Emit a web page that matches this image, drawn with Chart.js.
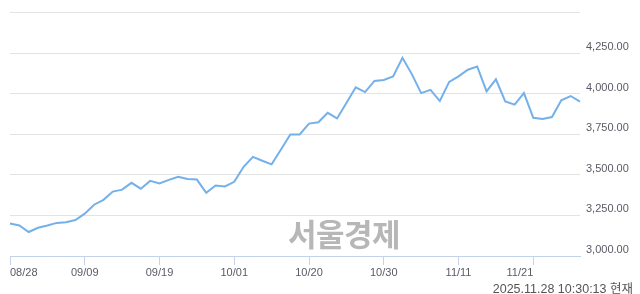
<!DOCTYPE html>
<html>
<head>
<meta charset="utf-8">
<script src="https://cdn.jsdelivr.net/npm/chart.js@4/dist/chart.umd.min.js"></script>
<style>
  body { margin: 0; background: #fff; }
  #wrap { position: relative; width: 640px; height: 294px; }
  #mark {
    position: absolute; left: 288px; top: 210px;
    font: bold 31px 'Noto Sans CJK KR', sans-serif;
    color: #b7b7b7; letter-spacing: -0.5px;
  }
  #stamp {
    position: absolute; right: 7px; top: 278px;
    font: 12.5px 'Liberation Sans', 'Noto Sans CJK KR', sans-serif;
    color: #555;
  }
</style>
</head>
<body>
<div id="wrap">
  <canvas id="kospiChart"></canvas>
  <div id="mark">서울경제</div>
  <div id="stamp">2025.11.28 10:30:13 현재</div>
</div>
<script>
// trading days 08/28 ~ 11/28
const dates = [
  '08/28', '08/29', '09/01', '09/02', '09/03', '09/04', '09/05', '09/08', '09/09', '09/10',
  '09/11', '09/12', '09/15', '09/16', '09/17', '09/18', '09/19', '09/22', '09/23', '09/24',
  '09/25', '09/26', '09/29', '09/30', '10/01', '10/02', '10/10', '10/13', '10/14', '10/15',
  '10/16', '10/17', '10/20', '10/21', '10/22', '10/23', '10/24', '10/27', '10/28', '10/29',
  '10/30', '10/31', '11/03', '11/04', '11/05', '11/06', '11/07', '11/10', '11/11', '11/12',
  '11/13', '11/14', '11/17', '11/18', '11/19', '11/20', '11/21', '11/24', '11/25', '11/26',
  '11/27', '11/28'
];
const closes = [
  3200, 3188, 3148, 3174, 3188, 3204, 3208, 3222, 3261, 3316,
  3346, 3397, 3409, 3451, 3415, 3463, 3447, 3469, 3488, 3474,
  3471, 3389, 3435, 3429, 3457, 3550, 3611, 3587, 3565, 3656,
  3749, 3749, 3816, 3824, 3882, 3848, 3943, 4040, 4010, 4079,
  4085, 4107, 4221, 4121, 4004, 4024, 3955, 4073, 4107, 4148,
  4168, 4014, 4089, 3953, 3933, 4004, 3852, 3844, 3856, 3960,
  3986, 3951
];
const tickLabels = ['08/28', '09/09', '09/19', '10/01', '10/20', '10/30', '11/11', '11/21'];
const yTicks = [3000, 3250, 3500, 3750, 4000, 4250, 4500];

const fontFamily = "'Liberation Sans', Arial, sans-serif";

new Chart(document.getElementById('kospiChart'), {
  type: 'line',
  data: {
    labels: dates,
    datasets: [{
      data: closes,
      borderColor: '#74b0ea',
      borderWidth: 2,
      pointRadius: 0,
      tension: 0,
      fill: false
    }]
  },
  options: {
    responsive: true,
    maintainAspectRatio: false,
    animation: false,
    layout: { padding: { left: 10, top: 9, right: 0, bottom: 0 } },
    plugins: {
      legend: { display: false },
      tooltip: { enabled: false }
    },
    scales: {
      x: {
        type: 'category',
        offset: false,
        grid: {
          drawOnChartArea: false,
          drawTicks: true,
          tickLength: 9,
          color: '#c5d3ea'
        },
        border: { display: true, color: '#c5d3ea' },
        ticks: {
          autoSkip: false,
          maxRotation: 0,
          align: 'inner',
          padding: 1,
          color: '#5a5a66',
          font: { family: fontFamily, size: 11 },
          callback: function (value) {
            const label = this.getLabelForValue(value);
            return tickLabels.includes(label) ? label : null;
          }
        },
        afterFit: function (scale) {
          scale.height = 38;
        }
      },
      y: {
        position: 'right',
        min: 3000,
        max: 4500,
        afterBuildTicks: function (scale) {
          scale.ticks = yTicks.map(v => ({ value: v }));
        },
        grid: { color: '#e3e3e3', drawTicks: false },
        border: { display: false },
        ticks: {
          padding: 6,
          labelOffset: -6,
          color: '#5a5a66',
          font: { family: fontFamily, size: 11 },
          callback: function (value) {
            if (value === 4500) return '';
            return value.toLocaleString('en-US', { minimumFractionDigits: 2, maximumFractionDigits: 2 });
          }
        },
        afterFit: function (scale) {
          scale.width = 60;
        }
      }
    }
  }
});
</script>
</body>
</html>
